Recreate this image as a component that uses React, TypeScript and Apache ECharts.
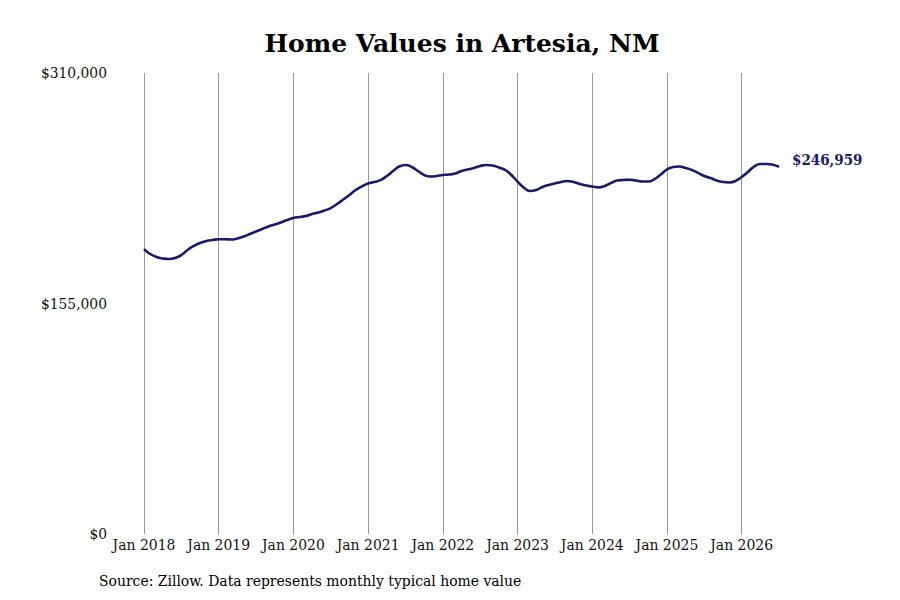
import { useEffect, useRef } from "react";
import * as echarts from "echarts";

const years = [2018, 2019, 2020, 2021, 2022, 2023, 2024, 2025, 2026];
const monthNames = ["Jan", "Feb", "Mar", "Apr", "May", "Jun", "Jul", "Aug", "Sep", "Oct", "Nov", "Dec"];

// monthly typical home value, Jan 2018 .. Jul 2026
const v2018 = [191600, 188300, 186300, 185300, 184900, 185600, 187600, 191000, 193700, 195700, 197000, 197700];
const v2019 = [198200, 198200, 198000, 198700, 200000, 201700, 203400, 205100, 206800, 208100, 209500, 211100];
const v2020 = [212500, 213200, 213800, 215200, 216200, 217500, 219200, 221900, 224900, 228000, 231300, 233700];
const v2021 = [235700, 236700, 238000, 240700, 244100, 247100, 248100, 246800, 244100, 241400, 240400, 240700];
const v2022 = [241400, 241700, 242400, 244100, 245100, 246100, 247500, 248100, 247800, 246500, 244800, 241400];
const v2023 = [237000, 233000, 230700, 231300, 233300, 234700, 235700, 236700, 237400, 236700, 235400, 234300];
const v2024 = [233700, 233100, 234000, 236000, 237700, 238000, 238200, 237700, 237000, 237000, 238700, 241700];
const v2025 = [245100, 246800, 247100, 246100, 244800, 242800, 240700, 239400, 237700, 236700, 236400, 237400];
const v2026 = [240100, 243400, 247100, 248800, 248800, 248300, 246959];

const values = [...v2018, ...v2019, ...v2020, ...v2021, ...v2022, ...v2023, ...v2024, ...v2025, ...v2026];
const months = years.flatMap((y) => monthNames.map((m) => `${m} ${y}`)).slice(0, values.length);

const yTicks = [0, 155000, 310000];
const lastLabel = "$246,959";
const source = "Source: Zillow. Data represents monthly typical home value";

const serif = "'DejaVu Serif Condensed', 'DejaVu Serif', serif";
const lineColor = "#1b1a68";

export default function App(): JSX.Element {
  const chartRef = useRef<HTMLDivElement>(null);

  useEffect(() => {
    const myChart = echarts.init(chartRef.current, null, { renderer: "svg" });
    const isJan = (idx: number) => idx % 12 === 0;
    const option = {
      animation: false,
      backgroundColor: "#ffffff",
      title: {
        text: "Home Values in Artesia, NM",
        left: 457,
        top: 26,
        textAlign: "center",
        textStyle: {
          fontFamily: "'DejaVu Serif', serif",
          fontWeight: "bold",
          fontSize: 25,
          color: "#000000",
        },
      },
      grid: { left: 144, right: 121, top: 73, bottom: 66 },
      xAxis: {
        type: "category",
        boundaryGap: false,
        data: months,
        axisLine: { show: false },
        axisTick: { show: false },
        axisLabel: {
          interval: (idx: number) => isJan(idx),
          margin: 3,
          fontFamily: serif,
          fontSize: 15.5,
          color: "#111111",
        },
        splitLine: {
          show: true,
          interval: (idx: number) => isJan(idx),
          lineStyle: { color: "#999999", width: 1 },
        },
      },
      yAxis: {
        type: "value",
        min: yTicks[0],
        max: yTicks[yTicks.length - 1],
        interval: yTicks[1] - yTicks[0],
        axisLine: { show: false },
        axisTick: { show: false },
        splitLine: { show: false },
        axisLabel: {
          margin: 37,
          fontFamily: serif,
          fontSize: 15.4,
          color: "#111111",
          formatter: (v: number) => "$" + v.toLocaleString("en-US"),
        },
      },
      series: [
        {
          type: "line",
          data: values,
          smooth: true,
          showSymbol: false,
          lineStyle: { color: lineColor, width: 2.6 },
          endLabel: {
            show: true,
            formatter: () => lastLabel,
            offset: [5, -7],
            fontFamily: serif,
            fontWeight: "bold",
            fontSize: 15,
            color: lineColor,
          },
        },
      ],
      graphic: [
        {
          type: "text",
          left: 99,
          top: 573,
          style: {
            text: source,
            fontFamily: serif,
            fontSize: 15.5,
            fill: "#000000",
          },
        },
      ],
    };
    myChart.setOption(option);
    return () => {
      myChart.dispose();
    };
  }, []);

  return <div ref={chartRef} style={{ width: 900, height: 600, margin: -8 }}></div>;
}
